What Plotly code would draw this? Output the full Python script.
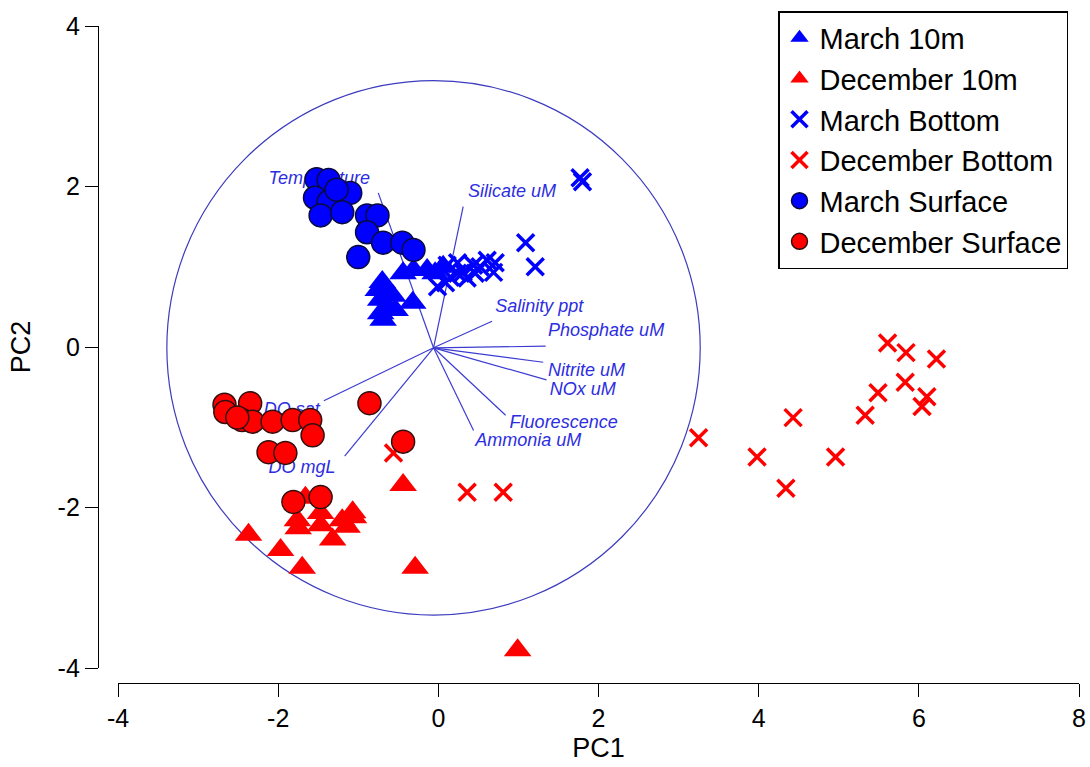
import plotly.graph_objects as go

# ---- sample scores (PC1, PC2) ----
march_10m_pc1 = [-0.70, -0.66, -0.72, -0.64, -0.72, -0.69, -0.54, -0.44, -0.32, -0.31, -0.14, -0.04, 0.06, -0.75, -0.57]
march_10m_pc2 = [0.81, 0.71, 0.59, 0.50, 0.42, 0.34, 0.46, 0.92, 0.55, 0.96, 0.96, 0.92, 1.00, 0.71, 0.64]

dec_10m_pc1 = [-2.37, -1.97, -1.70, -1.66, -1.76, -1.75, -1.47, -1.47, -1.32, -1.20, -1.06, -1.07, -1.14, -0.44, -0.29, 0.99]
dec_10m_pc2 = [-2.34, -2.53, -2.75, -1.88, -2.16, -2.26, -2.07, -2.22, -2.40, -2.16, -2.12, -2.06, -2.24, -1.72, -2.75, -3.78]

march_bot_pc1 = [-0.01, 0.09, 0.15, 0.24, 0.31, 0.36, 0.46, 0.52, 0.61, 0.71, 0.69, 0.11, 0.24, 0.44, 1.09, 1.21, 1.77, 1.80]
march_bot_pc2 = [0.75, 0.80, 0.87, 0.92, 0.93, 0.86, 0.92, 1.00, 1.08, 1.05, 0.93, 1.02, 1.05, 1.02, 1.30, 1.00, 2.11, 2.06]

dec_bot_pc1 = [-0.56, 0.36, 0.81, 3.25, 3.98, 4.43, 4.34, 4.96, 5.33, 5.49, 5.61, 5.84, 6.22, 5.83, 6.10, 6.04]
dec_bot_pc2 = [-1.32, -1.81, -1.81, -1.13, -1.37, -0.88, -1.76, -1.37, -0.85, -0.57, 0.05, -0.07, -0.15, -0.44, -0.62, -0.74]

march_surf_pc1 = [-1.52, -1.37, -1.54, -1.37, -1.10, -1.47, -1.20, -0.89, -0.76, -0.89, -0.69, -0.45, -0.31, -1.00, -1.27]
march_surf_pc2 = [2.09, 2.08, 1.86, 1.81, 1.92, 1.64, 1.68, 1.64, 1.64, 1.43, 1.30, 1.30, 1.21, 1.12, 1.96]

dec_surf_pc1 = [-2.67, -2.66, -2.35, -2.45, -2.32, -2.07, -1.82, -1.60, -1.57, -2.12, -1.91, -0.86, -0.44, -1.81, -1.47, -2.51]
dec_surf_pc2 = [-0.72, -0.81, -0.70, -0.91, -0.93, -0.93, -0.91, -0.91, -1.10, -1.31, -1.32, -0.70, -1.18, -1.93, -1.87, -0.88]

# ---- variable loadings (biplot vectors) ----
loading_names = ["Temperature", "Silicate uM", "Salinity ppt", "Phosphate uM", "Nitrite uM",
                 "NOx uM", "Fluorescence", "Ammonia uM", "DO sat", "DO mgL"]
loading_pc1 = [-0.75, 0.31, 0.67, 1.34, 1.31, 1.35, 0.84, 0.44, -1.43, -1.17]
loading_pc2 = [1.92, 1.75, 0.32, 0.01, -0.19, -0.41, -0.85, -1.04, -0.67, -1.36]
label_pc1 = [-2.12, 0.37, 0.71, 1.37, 1.37, 1.39, 0.89, 0.46, -2.18, -2.12]
label_pc2 = [2.09, 1.92, 0.49, 0.19, -0.31, -0.54, -0.95, -1.18, -0.79, -1.51]
biplot_origin = (-0.06, -0.01)
circle_radius = 3.33

x_ticks = [-4, -2, 0, 2, 4, 6, 8]
x_tick_text = ["-4", "-2", "0", "2", "4", "6", "8"]
y_ticks = [-4, -2, 0, 2, 4]
y_tick_text = ["-4", "-2", "0", "2", "4"]

BLUE = "rgb(0,0,255)"
RED = "rgb(255,0,0)"
VEC = "rgb(60,60,210)"
FONT = "Arial, Liberation Sans, sans-serif"

fig = go.Figure()

# loading vectors from the biplot origin
vx, vy = [], []
for px, py in zip(loading_pc1, loading_pc2):
    vx += [biplot_origin[0], px, None]
    vy += [biplot_origin[1], py, None]
fig.add_trace(go.Scatter(x=vx, y=vy, mode="lines", line=dict(color=VEC, width=1.2),
                         showlegend=False, hoverinfo="skip"))
fig.add_trace(go.Scatter(x=label_pc1, y=label_pc2, mode="text", text=loading_names,
                         textposition="middle right",
                         textfont=dict(family=FONT, size=18, color="rgb(45,45,225)", style="italic"),
                         showlegend=False, hoverinfo="skip"))

tri = dict(symbol="triangle-up", size=24, line=dict(width=0))
xm = dict(symbol="x-thin", size=17)
circ = dict(symbol="circle", size=23)

fig.add_trace(go.Scatter(x=march_10m_pc1, y=march_10m_pc2, mode="markers", name="March 10m",
                         marker=dict(tri, color=BLUE)))
fig.add_trace(go.Scatter(x=dec_10m_pc1, y=dec_10m_pc2, mode="markers", name="December 10m",
                         marker=dict(tri, color=RED)))
fig.add_trace(go.Scatter(x=march_bot_pc1, y=march_bot_pc2, mode="markers", name="March Bottom",
                         marker=dict(xm, color=BLUE, line=dict(color=BLUE, width=3.5))))
fig.add_trace(go.Scatter(x=dec_bot_pc1, y=dec_bot_pc2, mode="markers", name="December Bottom",
                         marker=dict(xm, color=RED, line=dict(color=RED, width=3.5))))
fig.add_trace(go.Scatter(x=march_surf_pc1, y=march_surf_pc2, mode="markers", name="March Surface",
                         marker=dict(circ, color=BLUE, line=dict(color="rgb(10,10,60)", width=1.5))))
fig.add_trace(go.Scatter(x=dec_surf_pc1, y=dec_surf_pc2, mode="markers", name="December Surface",
                         marker=dict(circ, color=RED, line=dict(color="rgb(50,15,15)", width=1.5))))

# correlation circle
fig.add_shape(type="circle", xref="x", yref="y", layer="below",
              x0=biplot_origin[0] - circle_radius, x1=biplot_origin[0] + circle_radius,
              y0=biplot_origin[1] - circle_radius, y1=biplot_origin[1] + circle_radius,
              line=dict(color="rgb(60,60,190)", width=1.2))

axis_common = dict(showgrid=False, zeroline=False, showline=True, linecolor="black", linewidth=1.3,
                   ticks="outside", ticklen=13, tickwidth=1.3, tickcolor="black",
                   tickfont=dict(family=FONT, size=25, color="black"), anchor="free", position=0)

fig.update_layout(
    width=1090, height=767,
    margin=dict(l=98, r=11, t=26, b=84, autoexpand=False),
    plot_bgcolor="white", paper_bgcolor="white",
    xaxis=dict(axis_common, range=[-4, 8], domain=[20 / 981, 1], tickvals=x_ticks, ticktext=x_tick_text,
               title=dict(text="PC1", font=dict(family=FONT, size=27, color="black"), standoff=6)),
    yaxis=dict(axis_common, range=[-4, 4], domain=[15 / 657, 1], tickvals=y_ticks, ticktext=y_tick_text,
               title=dict(text="PC2", font=dict(family=FONT, size=27, color="black"), standoff=18)),
    legend=dict(x=(778 - 98) / 981, y=1 + 15 / 657, xanchor="left", yanchor="top",
                bordercolor="black", borderwidth=1.5, bgcolor="white",
                font=dict(family=FONT, size=29, color="black")),
    showlegend=True,
)

fig.write_html("out.html")
